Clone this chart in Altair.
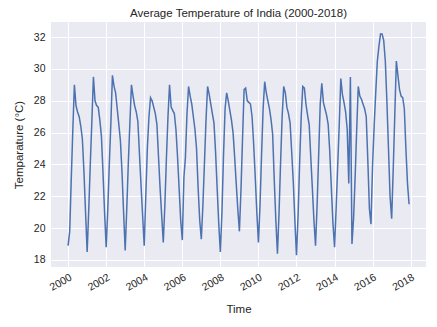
import altair as alt
import pandas as pd

# Monthly average temperatures (°C), Jan..Dec
t2000 = [18.9, 19.8, 23.0, 26.2, 29.0, 27.7, 27.3, 27.0, 26.4, 25.6, 23.5, 21.0]
t2001 = [18.5, 21.2, 23.9, 26.7, 29.5, 28.0, 27.7, 27.6, 26.8, 25.8, 23.5, 21.0]
t2002 = [18.8, 21.2, 23.9, 26.6, 29.6, 28.9, 28.5, 27.5, 26.5, 25.5, 23.5, 21.0]
t2003 = [18.6, 21.3, 24.0, 26.6, 29.0, 28.3, 27.7, 27.3, 26.7, 24.7, 22.7, 20.8]
t2004 = [18.9, 22.1, 25.0, 27.0, 28.2, 28.0, 27.6, 27.2, 26.5, 24.5, 22.5, 20.8]
t2005 = [19.1, 21.5, 24.3, 27.0, 29.0, 27.6, 27.4, 27.2, 26.2, 24.5, 22.5, 20.5]
t2006 = [19.25, 23.2, 24.4, 27.2, 28.9, 28.3, 27.8, 27.0, 26.2, 25.0, 22.5, 20.5]
t2007 = [19.3, 21.5, 24.0, 26.8, 28.9, 28.4, 27.8, 27.2, 26.6, 24.8, 22.5, 20.3]
t2008 = [18.5, 21.0, 24.5, 27.5, 28.5, 28.0, 27.4, 26.8, 26.0, 24.5, 22.8, 21.2]
t2009 = [19.8, 22.5, 25.5, 28.7, 28.8, 28.0, 27.9, 27.8, 27.0, 25.3, 23.2, 21.0]
t2010 = [19.1, 21.5, 24.5, 27.5, 29.2, 28.5, 28.0, 27.5, 26.8, 25.9, 23.0, 20.5]
t2011 = [18.4, 21.0, 24.0, 27.0, 28.9, 28.5, 27.6, 27.2, 26.6, 24.8, 22.9, 20.5]
t2012 = [18.3, 20.8, 24.0, 27.0, 28.9, 28.8, 27.8, 27.1, 26.5, 24.5, 22.5, 20.5]
t2013 = [18.9, 21.5, 24.5, 27.8, 29.1, 27.9, 27.5, 27.1, 26.5, 24.8, 22.5, 20.3]
t2014 = [18.8, 21.3, 23.8, 26.5, 29.4, 28.4, 27.9, 27.3, 26.2, 22.8, 29.5, 19.0]
t2015 = [20.6, 23.3, 26.1, 28.9, 28.3, 28.1, 27.8, 27.5, 27.0, 24.3, 21.2, 20.25]
t2016 = [24.0, 26.5, 28.5, 30.5, 31.4, 32.2, 32.2, 31.8, 30.5, 28.0, 25.0, 22.0]
t2017 = [20.6, 23.8, 27.0, 30.5, 29.6, 28.7, 28.3, 28.2, 27.5, 25.0, 22.8, 21.5]

years = list(range(2000, 2018))
series = [t2000, t2001, t2002, t2003, t2004, t2005, t2006, t2007, t2008,
          t2009, t2010, t2011, t2012, t2013, t2014, t2015, t2016, t2017]
x_tick_years = list(range(2000, 2019, 2))
y_ticks = [18, 20, 22, 24, 26, 28, 30, 32]

rows = []
for yr, vals in zip(years, series):
    for m, v in enumerate(vals, start=1):
        rows.append({"date": pd.Timestamp(year=yr, month=m, day=1), "temp": v})
df = pd.DataFrame(rows)

TEXT = "#262626"
FONT = "Liberation Sans"

chart = alt.Chart(df).mark_line(color="#4C72B0", strokeWidth=1.5).encode(
    x=alt.X(
        "date:T",
        title="Time",
        scale=alt.Scale(domain=[alt.DateTime(year=1999, month=2, date=7),
                                alt.DateTime(year=2018, month=10, date=22)]),
        axis=alt.Axis(
            values=[alt.DateTime(year=y, month=1, date=1) for y in x_tick_years],
            format="%Y", labelAngle=330, labelAlign="right", labelBaseline="top",
            labelPadding=5, titlePadding=11,
        ),
    ),
    y=alt.Y(
        "temp:Q",
        title="Temparature (°C)",
        scale=alt.Scale(domain=[17.56, 32.95], nice=False, zero=False),
        axis=alt.Axis(values=y_ticks, labelPadding=6, titlePadding=9),
    ),
).properties(
    width=375,
    height=245,
    background="white",
    title=alt.TitleParams("Average Temperature of India (2000-2018)",
                          fontSize=11.5, fontWeight="normal", color=TEXT,
                          font=FONT, offset=3),
    padding={"left": 51, "top": 22, "right": 11, "bottom": 60},
    autosize=alt.AutoSizeParams(type="none"),
).configure_view(
    fill="#EAEAF2", stroke=None
).configure_axis(
    domain=False, ticks=False, grid=True, gridColor="white", gridWidth=1,
    labelFont=FONT, labelFontSize=10.5, labelColor=TEXT,
    titleFont=FONT, titleFontSize=11.5, titleFontWeight="normal", titleColor=TEXT,
)

chart.save("out.html", embed_options={"renderer": "svg", "actions": False})
